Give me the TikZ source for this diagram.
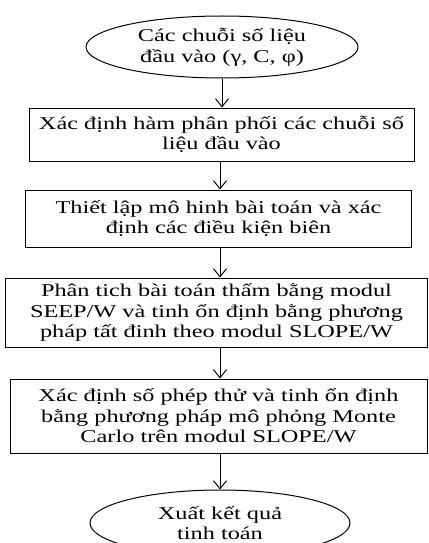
\documentclass[tikz,border=0pt]{standalone}
\usepackage{fontspec}
\setmainfont[FakeStretch=1.35]{Liberation Serif}
\usetikzlibrary{shapes.geometric,arrows.meta}
\begin{document}
\begin{tikzpicture}[x=1pt,y=-1pt,
	box/.style={draw,line width=1pt,inner sep=0pt,align=center,font=\fontsize{18}{20.5}\selectfont},
	oval/.style={draw,ellipse,line width=1pt,inner sep=0pt,align=center,font=\fontsize{18}{20.5}\selectfont},
	arr/.style={-{Straight Barb[length=8pt,width=13pt]},line width=1pt}]
	\useasboundingbox (0,0) rectangle (428,543);
		\node[oval,minimum width=272,minimum height=62] (start) at (222,47) {Các chuỗi số liệu\\đầu vào (γ, C, φ)};
		\node[box,minimum width=385,minimum height=53] (phanphoi) at (221.5,134.5) {Xác định hàm phân phối các chuỗi số\\liệu đầu vào};
		\node[box,minimum width=386,minimum height=57] (mohinh) at (218.5,218.5) {Thiết lập mô hinh bài toán và xác\\định các điều kiện biên};
		\node[box,minimum width=422,minimum height=69] (seep) at (216.5,312.5) {Phân tich bài toán thấm bằng modul\\SEEP/W và tinh ổn định bằng phương\\pháp tất đinh theo modul SLOPE/W};
		\node[box,minimum width=417,minimum height=74] (monte) at (218.5,416) {Xác định số phép thử và tinh ổn định\\bằng phương pháp mô phỏng Monte\\Carlo trên modul SLOPE/W};
		\node[oval,minimum width=260,minimum height=66] (ketqua) at (220,523) {Xuất kết quả\\tinh toán};
	\draw[arr] (start.south) -- (start.south |- phanphoi.north);
	\draw[arr] (phanphoi.south -| ketqua) -- (ketqua |- mohinh.north);
	\draw[arr] (mohinh.south -| ketqua) -- (ketqua |- seep.north);
	\draw[arr] (seep.south -| ketqua) -- (ketqua |- monte.north);
	\draw[arr] (monte.south -| ketqua) -- (ketqua.north);
	\end{tikzpicture}
\end{document}
